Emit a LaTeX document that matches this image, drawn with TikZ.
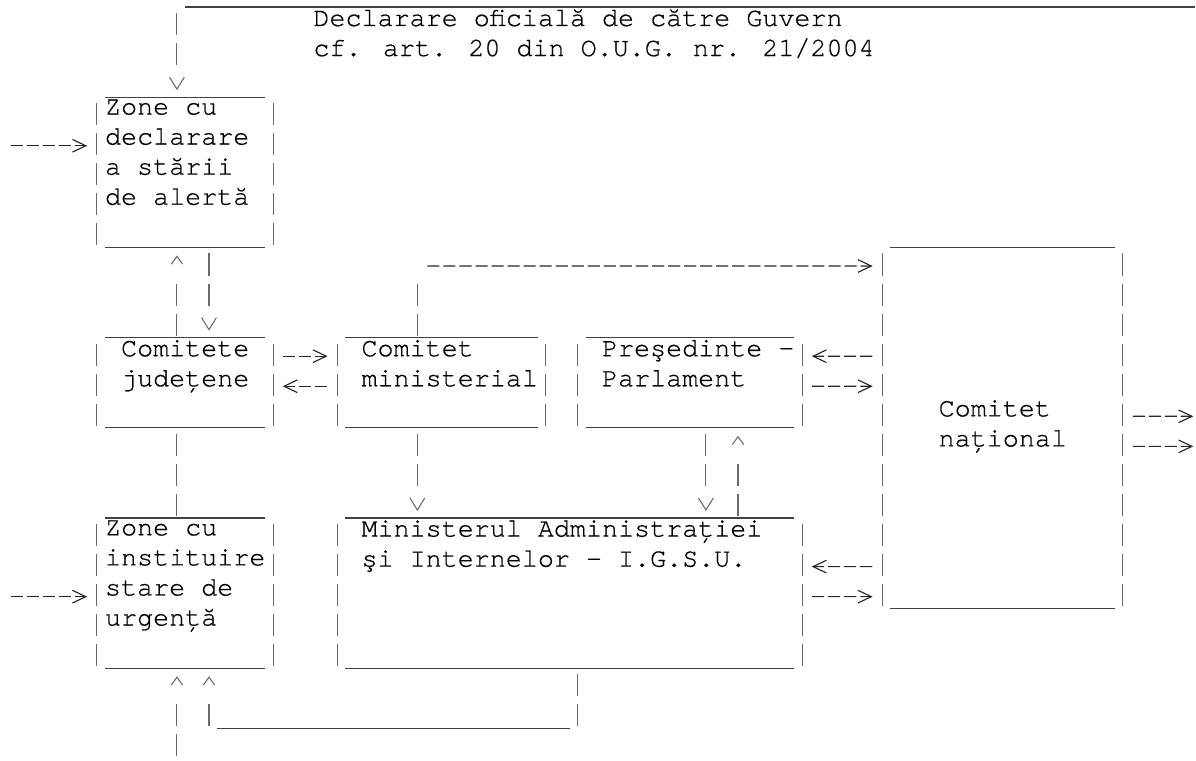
\documentclass[tikz,border=0pt]{standalone}
\usepackage{fontspec}
\usepackage{tikz}
\usetikzlibrary{arrows.meta,calc,fit}
\newfontfamily\courfont{texgyrecursor-regular}[Extension=.otf,FakeBold=0.6]
\newcommand\cour{\courfont\fontsize{18.97}{21.34}\selectfont\lineskiplimit=-20pt}
\definecolor{BarGray}{RGB}{105,105,105}
\definecolor{LineGray}{RGB}{65,65,65}

\tikzset{
  lbl/.style={font=\cour, align=left, inner sep=0pt, anchor=north west, execute at begin node=\strut},
  box/.style={inner sep=0pt, outer sep=0pt, draw=none},
  bar/.style={BarGray, line width=0.75pt, dash pattern=on 15.65pt off 5.69pt},
  under/.style={LineGray, line width=0.85pt},
  dsh/.style={black!85, line width=0.8pt, dash pattern=on 8.54pt off 2.85pt},
  tipdn/.style={-{Straight Barb[length=8.5pt,width=10.5pt]}},
  tipup/.style={-{Straight Barb[length=5.5pt,width=8pt]}},
  tiprt/.style={-{Straight Barb[length=9.5pt,width=9pt]}},
  dnarr/.style={bar, dash pattern=on 15.65pt off 5.69pt on 15.65pt off 80pt, tipdn},
  uparr/.style={bar, dash pattern=on 15.65pt off 5.69pt on 15.65pt off 80pt, tipup},
}

\newcommand\asciibox[1]{%
  \draw[under] ($(#1.north west)+(0.5,0)$) -- ($(#1.north east)+(-0.5,0)$);
  \draw[under] ($(#1.south west)+(0.5,0)$) -- ($(#1.south east)+(-0.5,0)$);
  \draw[bar] ($(#1.north west)+(0,0.2)$) -- ($(#1.south west)+(0,-0.067)$);
  \draw[bar] ($(#1.north east)+(0,0.2)$) -- ($(#1.south east)+(0,-0.067)$);
}

\begin{document}
\begin{tikzpicture}[x=0.4cm, y=-0.75cm]
\useasboundingbox (-0.536,0) rectangle (74.07,25.3);

% boxes
\node[box, fit={(5.5,3.233) (16.5,8.233)}] (alerta) {};
\node[box, fit={(5.5,11.233) (16.5,14.233)}] (judete) {};
\node[box, fit={(20.5,11.233) (33.5,14.233)}] (minist) {};
\node[box, fit={(35.5,11.233) (49.5,14.233)}] (pres) {};
\node[box, fit={(54.5,8.233) (69.5,20.233)}] (national) {};
\node[box, fit={(5.5,17.233) (16.5,22.233)}] (urgenta) {};
\node[box, fit={(20.5,17.233) (49.5,22.233)}] (mai) {};
\foreach \b in {alerta,judete,minist,pres,national,urgenta,mai} {\asciibox{\b}}

% texts
\node[lbl] (govtxt) at (19,0.3) {Declarare oficială de către Guvern\\cf. art. 20 din O.U.G. nr. 21/2004};
\node[lbl] (alertatxt) at (6,3.3) {Zone cu\\declarare\\a stării\\de alertă};
\node[lbl] (judetetxt) at (7,11.3) {Comitete\\județene};
\node[lbl] (ministtxt) at (22,11.3) {Comitet\\ministerial};
\node[lbl] (prestxt) at (37,11.3) {Preşedinte -\\Parlament};
\node[lbl] (nationaltxt) at (58,13.3) {Comitet\\național};
\node[lbl] (urgentatxt) at (6,17.3) {Zone cu\\instituire\\stare de\\urgență};
\node[lbl] (maitxt) at (22,17.3) {Ministerul Administrației\\şi Internelor - I.G.S.U.};

% free ends
\coordinate (govleft) at (11,0.233);
\coordinate (govright) at (74,0.233);
\coordinate (mturn) at (25.5,9.433);
\coordinate (mdown) at (35.5,24.167);
\coordinate (mleft) at (12.5,24.167);
\coordinate (in1) at (0.125,4.85);
\coordinate (in2) at (0.125,19.85);
\coordinate (in3) at (10.5,25.167);
\coordinate (out1) at (73.9,13.85);
\coordinate (out2) at (73.9,14.85);

% Guvern -> zone alerta
\draw[under] (govleft) -- (govright);
\draw[dnarr] ($(govleft)+(-0.5,0.2)$) -- ($(alerta.north west)+(5,-0.233)$);
\draw[dsh,tiprt] (in1) -- ($(alerta.north west)+(-0.6,1.617)$);

% zone alerta <-> comitete judetene
\draw[uparr] ($(judete.north west)+(5,-0.067)$) -- ($(alerta.south west)+(5,0.267)$);
\draw[dnarr] ($(alerta.south west)+(7,0.2)$) -- ($(judete.north west)+(7,-0.233)$);

% judetene <-> ministerial
\draw[dsh,tiprt] ($(judete.north east)+(0.625,0.617)$) -- ($(minist.north west)+(-0.6,0.617)$);
\draw[dsh,tiprt] ($(minist.north west)+(-0.625,1.617)$) -- ($(judete.north east)+(0.6,1.617)$);

% ministerial -> national, ministerial -> MAI
\draw[bar] ($(minist.north west)+(5,-0.067)$) -- (mturn);
\draw[dsh,tiprt] ($(mturn)+(0.625,-0.583)$) -- ($(national.north west)+(-0.6,0.617)$);
\draw[dnarr] ($(minist.south west)+(5,0.2)$) -- ($(mai.north west)+(5,-0.233)$);

% presedinte <-> national, presedinte <-> MAI
\draw[dsh,tiprt] ($(national.north west)+(-0.625,3.617)$) -- ($(pres.north east)+(0.6,0.617)$);
\draw[dsh,tiprt] ($(pres.north east)+(0.625,1.617)$) -- ($(national.north west)+(-0.6,4.617)$);
\draw[dnarr] ($(pres.south west)+(8,0.2)$) -- ($(mai.north west)+(23,-0.233)$);
\draw[uparr] ($(mai.north west)+(25,-0.067)$) -- ($(pres.south west)+(10,0.267)$);

% MAI <-> national, national -> out
\draw[dsh,tiprt] ($(national.north west)+(-0.625,10.617)$) -- ($(mai.north east)+(0.6,1.617)$);
\draw[dsh,tiprt] ($(mai.north east)+(0.625,2.617)$) -- ($(national.north west)+(-0.6,11.617)$);
\draw[dsh,tiprt] ($(national.north east)+(0.625,5.617)$) -- (out1);
\draw[dsh,tiprt] ($(national.north east)+(0.625,6.617)$) -- (out2);

% zone urgenta
\draw[bar] ($(judete.south west)+(5,0.2)$) -- ($(urgenta.north west)+(5,-0.067)$);
\draw[dsh,tiprt] (in2) -- ($(urgenta.north west)+(-0.6,2.617)$);
\draw[uparr] (in3) -- ($(urgenta.south west)+(5,0.267)$);
\draw[bar] ($(mai.south west)+(15,0.2)$) -- (mdown);
\draw[under] ($(mdown)+(-0.5,0.067)$) -- ($(mleft)+(0.5,0.067)$);
\draw[uparr, dash phase=21.34pt] (mleft) -- ($(urgenta.south west)+(7,0.267)$);
\end{tikzpicture}
\end{document}
